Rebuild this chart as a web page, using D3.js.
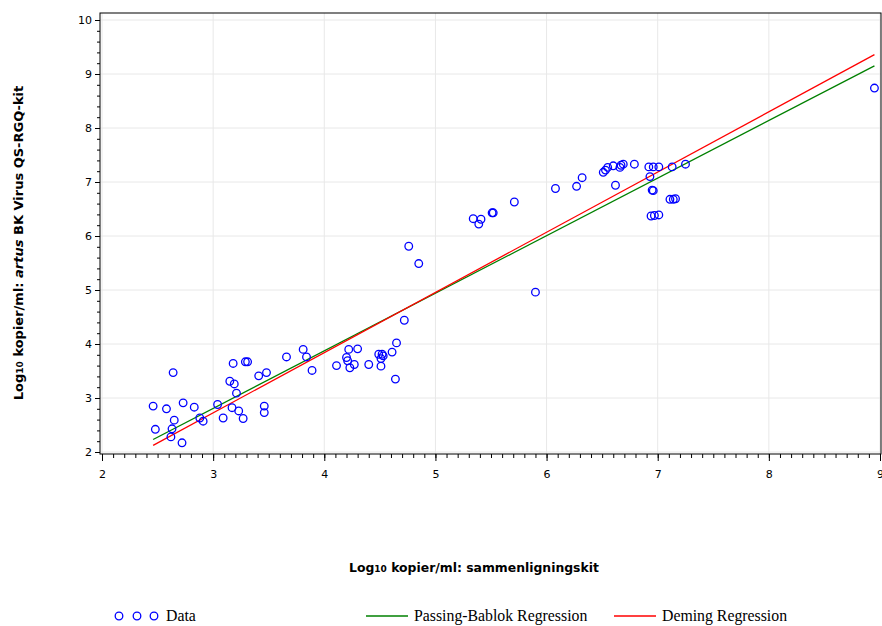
<html>
<head>
<meta charset="utf-8">
<style>
  body { margin: 0; background: #fff; }
  .grid line { stroke: #e8e8e8; }
  .axis path { display: none; }
  .axis line { stroke: #000; }
  .axis text { font-family: "DejaVu Sans", sans-serif; font-size: 11px; fill: #000; }
  .title { font-family: "DejaVu Sans", sans-serif; font-weight: bold; font-size: 13px; }
  .legend text { font-family: "Liberation Serif", serif; font-size: 15.8px; }
</style>
</head>
<body>
<svg id="chart" width="882" height="626"></svg>
<script src="https://cdn.jsdelivr.net/npm/d3@7/dist/d3.min.js"></script>
<script>
// comparison kit (x) vs artus kit (y), log10 copies/ml
const xValues = [2.46, 2.48, 2.58, 2.64, 2.62, 2.63, 2.65, 2.72, 2.73, 2.83,
  2.88, 2.91, 3.04, 3.09, 3.17, 3.18, 3.15, 3.19, 3.21, 3.23,
  3.27, 3.29, 3.31, 3.41, 3.48, 3.46, 3.46, 3.66, 3.81, 3.84,
  3.89, 4.11, 4.22, 4.20, 4.21, 4.23, 4.27, 4.30, 4.40, 4.49,
  4.52, 4.53, 4.51, 4.51, 4.61, 4.65, 4.64, 4.72, 4.76, 4.85,
  5.34, 5.41, 5.39, 5.51, 5.52, 5.71, 5.90, 6.08, 6.27, 6.32,
  6.51, 6.53, 6.55, 6.60, 6.62, 6.66, 6.67, 6.69, 6.79, 6.92,
  6.96, 7.01, 6.93, 6.95, 6.96, 6.94, 6.97, 7.01, 7.11, 7.14,
  7.16, 7.13, 7.25, 8.95]
const yValues = [2.85, 2.42, 2.80, 3.47, 2.28, 2.43, 2.59, 2.17, 2.91, 2.83,
  2.63, 2.57, 2.88, 2.63, 2.82, 3.64, 3.31, 3.26, 3.09, 2.76,
  2.62, 3.67, 3.67, 3.41, 3.47, 2.85, 2.73, 3.76, 3.90, 3.76,
  3.51, 3.60, 3.90, 3.75, 3.69, 3.56, 3.62, 3.91, 3.62, 3.81,
  3.81, 3.78, 3.73, 3.59, 3.85, 4.02, 3.35, 4.44, 5.81, 5.49,
  6.32, 6.31, 6.22, 6.43, 6.43, 6.63, 4.96, 6.88, 6.92, 7.08,
  7.18, 7.22, 7.27, 7.30, 6.94, 7.27, 7.31, 7.33, 7.33, 7.28,
  7.28, 7.28, 7.10, 6.85, 6.84, 6.37, 6.38, 6.39, 6.68, 6.68,
  6.69, 7.28, 7.33, 8.74]

const xTicks = [2, 3, 4, 5, 6, 7, 8, 9]
const yTicks = [2, 3, 4, 5, 6, 7, 8, 9, 10]

const fitNames = ["Passing-Bablok Regression", "Deming Regression"]
const fitSlopes = [1.066, 1.115]
const fitIntercepts = [-0.39, -0.62]

const svg = d3.select("#chart")
const fitColors = ["#008000", "#ff0000"]

const x = d3.scaleLinear().domain([2, 9]).range([102, 880])
const y = d3.scaleLinear().domain([2, 10]).range([452, 20])

const plotLeft = 100, plotTop = 13, plotRight = 881, plotBottom = 454

// gridlines
const grid = svg.append("g").attr("class", "grid")
grid.selectAll(".gx").data(xTicks).join("line")
  .attr("x1", d => x(d)).attr("x2", d => x(d))
  .attr("y1", plotTop).attr("y2", plotBottom)
grid.selectAll(".gy").data(yTicks).join("line")
  .attr("x1", plotLeft).attr("x2", plotRight)
  .attr("y1", d => y(d)).attr("y2", d => y(d))

// axes: minor then major ticks
svg.append("g").attr("class", "axis")
  .attr("transform", "translate(0," + plotBottom + ")")
  .call(d3.axisBottom(x).tickValues(d3.range(20, 91).map(d => d / 10)).tickSize(4).tickFormat(""))
svg.append("g").attr("class", "axis")
  .attr("transform", "translate(0," + plotBottom + ")")
  .call(d3.axisBottom(x).tickValues(xTicks).tickSize(7).tickPadding(9).tickFormat(d3.format("d")))

svg.append("g").attr("class", "axis")
  .attr("transform", "translate(" + plotLeft + ",0)")
  .call(d3.axisLeft(y).tickValues(d3.range(10, 51).map(d => d / 5)).tickSize(3).tickFormat(""))
svg.append("g").attr("class", "axis")
  .attr("transform", "translate(" + plotLeft + ",0)")
  .call(d3.axisLeft(y).tickValues(yTicks).tickSize(5).tickPadding(3).tickFormat(d3.format("d")))

// frame
svg.append("rect")
  .attr("x", plotLeft).attr("y", plotTop)
  .attr("width", plotRight - plotLeft).attr("height", plotBottom - plotTop)
  .attr("fill", "none").attr("stroke", "#000")

// regression lines over data range
const xr = d3.extent(xValues)
const line = d3.line().x(d => x(d[0])).y(d => y(d[1]))
fitNames.forEach((name, i) => {
  svg.append("path")
    .datum(xr.map(v => [v, fitIntercepts[i] + fitSlopes[i] * v]))
    .attr("d", line)
    .attr("fill", "none")
    .attr("stroke", fitColors[i])
    .attr("stroke-width", 1.3)
})

// data points
svg.append("g").selectAll("circle")
  .data(xValues.map((v, i) => [v, yValues[i]]))
  .join("circle")
  .attr("cx", d => x(d[0]))
  .attr("cy", d => y(d[1]))
  .attr("r", 3.8)
  .attr("fill", "none")
  .attr("stroke", "#0000ff")
  .attr("stroke-width", 1.3)

// axis titles
const yt = svg.append("text").attr("class", "title")
  .attr("transform", "translate(23,243) rotate(-90)")
  .attr("text-anchor", "middle")
yt.append("tspan").text("Log")
yt.append("tspan").style("font-size", "9px").text("10")
yt.append("tspan").text(" kopier/ml: ")
yt.append("tspan").style("font-style", "italic").text("artus")
yt.append("tspan").text(" BK Virus QS-RGQ-kit")

const xt = svg.append("text").attr("class", "title")
  .attr("x", 474).attr("y", 572)
  .style("font-size", "12.4px")
  .attr("text-anchor", "middle")
xt.append("tspan").text("Log")
xt.append("tspan").style("font-size", "9px").text("10")
xt.append("tspan").text(" kopier/ml: sammenligningskit")

// legend
const legend = svg.append("g").attr("class", "legend")
legend.selectAll("circle").data([119, 137, 154]).join("circle")
  .attr("cx", d => d).attr("cy", 616).attr("r", 3.8)
  .attr("fill", "none").attr("stroke", "#0000ff").attr("stroke-width", 1.3)
legend.append("text").attr("x", 166).attr("y", 621).text("Data")

const legendX = [366, 614]
fitNames.forEach((name, i) => {
  legend.append("line")
    .attr("x1", legendX[i]).attr("x2", legendX[i] + 42)
    .attr("y1", 616).attr("y2", 616)
    .attr("stroke", fitColors[i]).attr("stroke-width", 1.3)
  legend.append("text").attr("x", legendX[i] + 48).attr("y", 621).text(name)
})
</script>
</body>
</html>
